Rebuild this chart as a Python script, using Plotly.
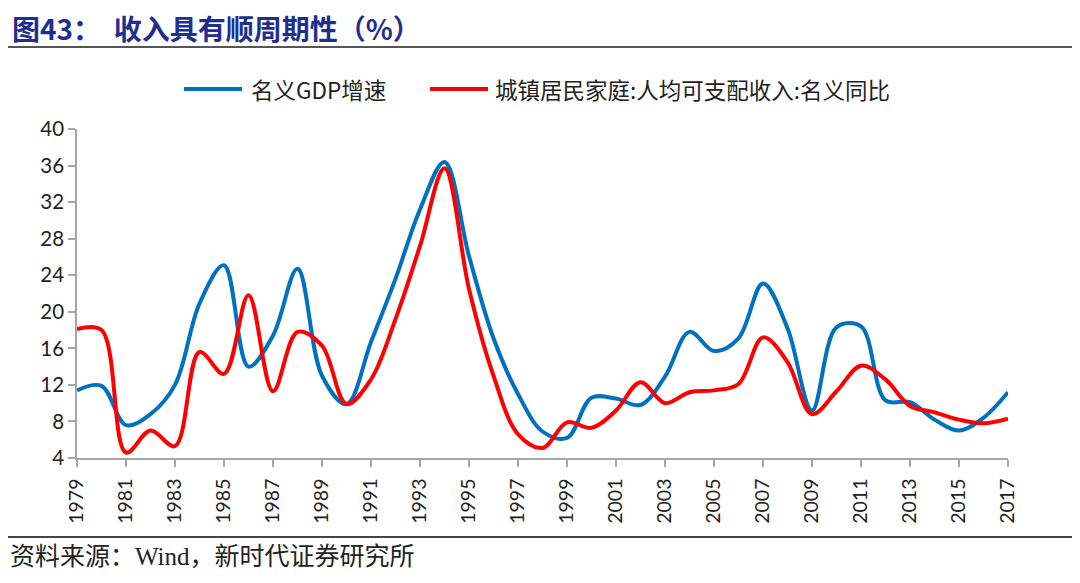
import plotly.graph_objects as go

years = list(range(1979, 2018))
gdp_growth = [11.4, 11.9, 7.6, 8.8, 12.0, 20.9, 25.1, 14.0, 17.4, 24.7,
              13.0, 9.9, 16.7, 23.6, 31.2, 36.4, 26.1, 17.1, 11.0, 6.9,
              6.2, 10.6, 10.5, 9.8, 12.9, 17.8, 15.7, 17.1, 23.1, 18.2,
              9.2, 18.3, 18.4, 10.3, 10.1, 8.2, 7.0, 8.4, 11.2]
income_growth = [18.1, 18.0, 4.6, 7.0, 5.3, 15.6, 13.2, 21.8, 11.3, 17.8,
                 16.3, 9.9, 12.6, 19.2, 27.2, 35.7, 22.5, 13.0, 6.6, 5.1,
                 7.9, 7.3, 9.2, 12.3, 10.0, 11.2, 11.4, 12.1, 17.2, 14.5,
                 8.8, 11.3, 14.1, 12.6, 9.7, 9.0, 8.2, 7.8, 8.3]
x_ticks = list(range(1979, 2018, 2))
y_ticks = list(range(4, 41, 4))

series_names = ["名义GDP增速", "城镇居民家庭:人均可支配收入:名义同比"]
series_colors = ["#0070C0", "#FF0000"]
title_text = "图43：  收入具有顺周期性（%）"
source_text = "资料来源：Wind，新时代证券研究所"

# page body has an 8px margin; lay out in screen pixels and shift
OFF = 8
W, H = 1080 - OFF, 583 - OFF
L, T = 77 - OFF, 129 - OFF
pw, ph = 931, 329
R = W - L - pw
B = H - T - ph

def px(x):
    return (x - OFF - L) / pw

def py(y):
    return (T + ph - (y - OFF)) / ph

fig = go.Figure()
for name, vals, col in zip(series_names, [gdp_growth, income_growth], series_colors):
    fig.add_trace(go.Scatter(x=years, y=vals, mode="lines", name=name, showlegend=False,
                             line=dict(color=col, width=4, shape="spline", smoothing=1.0)))

# legend drawn manually to match the reference spacing
leg_y = 89
leg_items = [(184, 242, 249), (430, 488, 493)]
shapes = []
annotations = []
for (x0, x1, tx), name, col in zip(leg_items, series_names, series_colors):
    shapes.append(dict(type="line", xref="paper", yref="paper", x0=px(x0), x1=px(x1),
                       y0=py(leg_y), y1=py(leg_y), line=dict(color=col, width=4)))
    annotations.append(dict(text=name, xref="paper", yref="paper", x=px(tx), y=py(leg_y),
                            xanchor="left", yanchor="middle", showarrow=False,
                            font=dict(size=22.5, family="Noto Sans CJK SC", color="#222222")))

annotations += [
    dict(text="<b>" + title_text + "</b>", xref="paper", yref="paper",
         x=px(10), y=py(28), xanchor="left", yanchor="middle", showarrow=False,
         font=dict(size=28, color="#1F2F8F", family="Noto Sans CJK SC")),
    dict(text=source_text, xref="paper", yref="paper",
         x=px(8), y=py(556), xanchor="left", yanchor="middle", showarrow=False,
         font=dict(size=25, color="#222222", family="Liberation Serif, Noto Sans CJK SC")),
]
shapes += [
    dict(type="line", xref="paper", yref="paper", x0=px(8), x1=px(1072), y0=py(47), y1=py(47),
         line=dict(color="#555555", width=2)),
    dict(type="line", xref="paper", yref="paper", x0=px(8), x1=px(1072), y0=py(537), y1=py(537),
         line=dict(color="#444444", width=2)),
]

axis_col = "#A6A6A6"
fig.update_layout(
    width=W, height=H,
    margin=dict(l=L, r=R, t=T, b=B),
    paper_bgcolor="white", plot_bgcolor="white",
    font=dict(family="Noto Sans CJK SC", color="#222222"),
    showlegend=False,
    xaxis=dict(range=[1979, 2017], tickmode="array", tickvals=x_ticks,
               ticktext=[str(v) for v in x_ticks], tickangle=-90,
               showgrid=False, zeroline=False, showline=True, linecolor=axis_col, linewidth=1.5,
               ticks="outside", ticklen=7, tickcolor=axis_col, tickwidth=1.5,
               ticklabelstandoff=4,
               tickfont=dict(family="Lato", size=19.5, color="#222222")),
    yaxis=dict(range=[4, 40], tickmode="array", tickvals=y_ticks,
               showgrid=False, zeroline=False, showline=True, linecolor=axis_col, linewidth=1.5,
               ticks="outside", ticklen=7, tickcolor=axis_col, tickwidth=1.5,
               tickfont=dict(family="Lato", size=20.5, color="#222222")),
    annotations=annotations,
    shapes=shapes,
)

fig.write_html("out.html")
